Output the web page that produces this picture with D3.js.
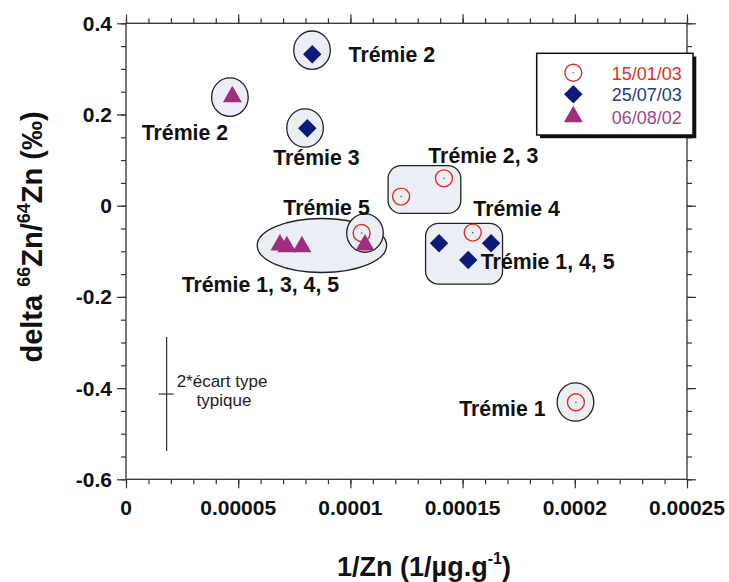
<!DOCTYPE html>
<html>
<head>
<meta charset="utf-8">
<script src="https://cdn.jsdelivr.net/npm/d3@7"></script>
<style>
  body { margin: 0; background: #fff; }
  svg { display: block; font-family: "Liberation Sans", Arial, sans-serif; }
</style>
</head>
<body>
<div id="chart"></div>
<script>
// x ticks / labels
var xTicks = [0, 0.00005, 0.0001, 0.00015, 0.0002, 0.00025];
var xTickLabels = ["0", "0.00005", "0.0001", "0.00015", "0.0002", "0.00025"];
var yTicks = [-0.6, -0.4, -0.2, 0, 0.2, 0.4];
var yTickLabels = ["-0.6", "-0.4", "-0.2", "0", "0.2", "0.4"];

// series names (legend order)
var seriesNames = ["15/01/03", "25/07/03", "06/08/02"];

// 15/01/03 - open circles
var jan03 = [
  {x: 0.0001226, y: 0.020},
  {x: 0.0001417, y: 0.060},
  {x: 0.0001545, y: -0.059},
  {x: 0.0001050, y: -0.060},
  {x: 0.0002005, y: -0.431}
];
// 25/07/03 - diamonds
var jul03 = [
  {x: 0.0000830, y: 0.332},
  {x: 0.0000808, y: 0.170},
  {x: 0.0001395, y: -0.0825},
  {x: 0.0001627, y: -0.0825},
  {x: 0.0001525, y: -0.119}
];
// 06/08/02 - triangles
var aug02 = [
  {x: 0.0000474, y: 0.239},
  {x: 0.0000686, y: -0.086},
  {x: 0.0000717, y: -0.090},
  {x: 0.0000784, y: -0.090},
  {x: 0.0001065, y: -0.086}
];

// text labels (data coords of the text start / baseline)
var labels = [
  {text: "Trémie 2", x: 0.0000992, y: 0.3145},
  {text: "Trémie 2", x: 0.0000070, y: 0.144},
  {text: "Trémie 3", x: 0.0000656, y: 0.0893},
  {text: "Trémie 2, 3", x: 0.0001347, y: 0.093},
  {text: "Trémie 5", x: 0.0000701, y: -0.0204},
  {text: "Trémie 4", x: 0.0001548, y: -0.0226},
  {text: "Trémie 1, 3, 4, 5", x: 0.0000248, y: -0.19},
  {text: "Trémie 1, 4, 5", x: 0.0001581, y: -0.1395},
  {text: "Trémie 1", x: 0.0001485, y: -0.4605}
];

// grouping ellipses (center in data units)
var groupEllipses = [
  {x: 0.0000829, y: 0.341},
  {x: 0.0000463, y: 0.238},
  {x: 0.0000798, y: 0.1704},
  {x: 0.0002003, y: -0.4305},
  {x: 0.0000873, y: -0.0873, big: true},
  {x: 0.0001065, y: -0.060}
];
// grouping rounded boxes
var groupBoxes = [
  {x0: 0.0001168, x1: 0.0001492, y0: -0.017, y1: 0.088},
  {x0: 0.0001335, x1: 0.0001678, y0: -0.172, y1: -0.0386}
];

// typical error bar (2 sigma)
var errBar = {x: 0.0000181, y: -0.413, err: 0.125};

var width = 729, height = 582;
var margin = {top: 23.3, right: 42, bottom: 102.7, left: 126};

var svg = d3.select("#chart").append("svg")
    .attr("width", width)
    .attr("height", height);

var x = d3.scaleLinear().domain([0, 0.00025]).range([margin.left, width - margin.right]);
var y = d3.scaleLinear().domain([-0.6, 0.4]).range([height - margin.bottom, margin.top]);

var frameColor = "#333";
var fillGroup = "#eceef6";

// frame
svg.append("rect")
    .attr("x", x(0)).attr("y", y(0.4))
    .attr("width", x(0.00025) - x(0)).attr("height", y(-0.6) - y(0.4))
    .attr("fill", "none").attr("stroke", frameColor).attr("stroke-width", 1.3);

var xMinor = d3.range(0, 0.000250001, 0.00001);
var yMinor = d3.range(-0.6, 0.40001, 0.05);

// ticks, pointing inward on all sides
svg.append("g").call(d3.axisTop(x).tickValues(xMinor).tickSize(-5).tickFormat(""))
    .attr("transform", "translate(0," + y(-0.6) + ")");
svg.append("g").call(d3.axisTop(x).tickValues(xTicks).tickSize(-9).tickFormat(""))
    .attr("transform", "translate(0," + y(-0.6) + ")");
svg.append("g").call(d3.axisBottom(x).tickValues(xMinor).tickSize(-5).tickFormat(""))
    .attr("transform", "translate(0," + y(0.4) + ")");
svg.append("g").call(d3.axisBottom(x).tickValues(xTicks).tickSize(-9).tickFormat(""))
    .attr("transform", "translate(0," + y(0.4) + ")");
svg.append("g").call(d3.axisRight(y).tickValues(yMinor).tickSize(-5).tickFormat(""))
    .attr("transform", "translate(" + x(0) + ",0)");
svg.append("g").call(d3.axisRight(y).tickValues(yTicks).tickSize(-9).tickFormat(""))
    .attr("transform", "translate(" + x(0) + ",0)");
svg.append("g").call(d3.axisLeft(y).tickValues(yMinor).tickSize(-5).tickFormat(""))
    .attr("transform", "translate(" + x(0.00025) + ",0)");
svg.append("g").call(d3.axisLeft(y).tickValues(yTicks).tickSize(-9).tickFormat(""))
    .attr("transform", "translate(" + x(0.00025) + ",0)");
svg.selectAll(".domain").remove();
svg.selectAll(".tick line").attr("stroke", frameColor).attr("stroke-width", 1.2);

// tick labels
svg.append("g").selectAll("text")
    .data(xTicks)
    .enter().append("text")
    .attr("x", function(d){ return x(d); })
    .attr("y", y(-0.6) + 36)
    .attr("text-anchor", "middle")
    .attr("font-size", 21).attr("font-weight", "bold").attr("fill", "#111")
    .text(function(d, i){ return xTickLabels[i]; });

svg.append("g").selectAll("text")
    .data(yTicks)
    .enter().append("text")
    .attr("x", x(0) - 14)
    .attr("y", function(d){ return y(d) + 7.5; })
    .attr("text-anchor", "end")
    .attr("font-size", 21).attr("font-weight", "bold").attr("fill", "#111")
    .text(function(d, i){ return yTickLabels[i]; });

// axis titles
var xt = svg.append("text")
    .attr("x", 424).attr("y", 576)
    .attr("text-anchor", "middle")
    .attr("font-size", 27).attr("font-weight", "bold").attr("fill", "#111");
xt.append("tspan").text("1/Zn (1/µg.g");
xt.append("tspan").attr("font-size", 16).attr("dy", -12).text("-1");
xt.append("tspan").attr("dy", 12).text(")");

var yt = svg.append("text")
    .attr("transform", "translate(42," + 237 + ") rotate(-90)")
    .attr("text-anchor", "middle")
    .attr("font-size", 29).attr("font-weight", "bold").attr("fill", "#111");
yt.append("tspan").text("delta  ");
yt.append("tspan").attr("font-size", 18).attr("dy", -12).text("66");
yt.append("tspan").attr("dy", 12).text("Zn/");
yt.append("tspan").attr("font-size", 18).attr("dy", -12).text("64");
yt.append("tspan").attr("dy", 12).text("Zn (‰)");

// grouping shapes
svg.append("g").selectAll("ellipse")
    .data(groupEllipses.filter(function(d){ return d.big; }).concat(groupEllipses.filter(function(d){ return !d.big; })))
    .enter().append("ellipse")
    .attr("cx", function(d){ return x(d.x); })
    .attr("cy", function(d){ return y(d.y); })
    .attr("rx", function(d){ return d.big ? 64.7 : 18.3; })
    .attr("ry", function(d){ return d.big ? 27 : 19.2; })
    .attr("fill", fillGroup).attr("stroke", "#222").attr("stroke-width", 1.3);

svg.append("g").selectAll("rect")
    .data(groupBoxes)
    .enter().append("rect")
    .attr("x", function(d){ return x(d.x0); })
    .attr("y", function(d){ return y(d.y1); })
    .attr("width", function(d){ return x(d.x1) - x(d.x0); })
    .attr("height", function(d){ return y(d.y0) - y(d.y1); })
    .attr("rx", 13).attr("ry", 13)
    .attr("fill", fillGroup).attr("stroke", "#222").attr("stroke-width", 1.3);

// error bar
var eb = svg.append("g").attr("stroke", "#333").attr("stroke-width", 1.2);
eb.append("line")
    .attr("x1", x(errBar.x)).attr("x2", x(errBar.x))
    .attr("y1", y(errBar.y + errBar.err)).attr("y2", y(errBar.y - errBar.err));
eb.append("line")
    .attr("x1", x(errBar.x) - 8).attr("x2", x(errBar.x) + 7)
    .attr("y1", y(errBar.y)).attr("y2", y(errBar.y));
svg.append("text").attr("x", 222).attr("y", 387)
    .attr("text-anchor", "middle").attr("font-size", 17).attr("fill", "#222")
    .text("2*écart type");
svg.append("text").attr("x", 224).attr("y", 406)
    .attr("text-anchor", "middle").attr("font-size", 17).attr("fill", "#222")
    .text("typique");

// markers
var colRed = "#dc3020", colBlue = "#0e1a7a", colPurple = "#a02d7f";
var diamond = d3.symbol().type(d3.symbolSquare).size(170);
var triangle = d3.symbol().type(d3.symbolTriangle).size(155);

function drawCircle(g, cx, cy) {
  g.append("circle").attr("cx", cx).attr("cy", cy).attr("r", 8.5)
    .attr("fill", "none").attr("stroke", colRed).attr("stroke-width", 1.4);
  g.append("circle").attr("cx", cx).attr("cy", cy).attr("r", 0.8).attr("fill", "#8a4a2a");
}

var gm = svg.append("g");
jan03.forEach(function(d){ drawCircle(gm, x(d.x), y(d.y)); });

gm.selectAll(".dia")
    .data(jul03)
    .enter().append("path").attr("class", "dia")
    .attr("d", diamond)
    .attr("transform", function(d){ return "translate(" + x(d.x) + "," + y(d.y) + ") rotate(45)"; })
    .attr("fill", colBlue);

gm.selectAll(".tri")
    .data(aug02)
    .enter().append("path").attr("class", "tri")
    .attr("d", triangle)
    .attr("transform", function(d){ return "translate(" + x(d.x) + "," + y(d.y) + ")"; })
    .attr("fill", colPurple);

// text labels
svg.append("g").selectAll("text")
    .data(labels)
    .enter().append("text")
    .attr("x", function(d){ return x(d.x); })
    .attr("y", function(d){ return y(d.y); })
    .attr("font-size", 21.3).attr("font-weight", "bold").attr("fill", "#111")
    .text(function(d){ return d.text; });

// legend
var lg = svg.append("g");
lg.append("rect").attr("x", 540).attr("y", 56.5).attr("width", 156.3).attr("height", 81.7).attr("fill", "#111");
lg.append("rect").attr("x", 536.7).attr("y", 53.3).attr("width", 156.3).attr("height", 81.7)
    .attr("fill", "#fff").attr("stroke", "#111").attr("stroke-width", 1.5);

var legendRows = [72.7, 94.3, 116.7];
var legendText = [colRed, "#24398c", "#a0458a"];
drawCircle(lg, 573.3, legendRows[0]);
lg.append("path").attr("d", diamond)
    .attr("transform", "translate(573.3," + legendRows[1] + ") rotate(45)").attr("fill", colBlue);
lg.append("path").attr("d", triangle)
    .attr("transform", "translate(573.3," + legendRows[2] + ")").attr("fill", colPurple);
lg.selectAll(".lt")
    .data(seriesNames)
    .enter().append("text").attr("class", "lt")
    .attr("x", 611.7)
    .attr("y", function(d, i){ return legendRows[i] + 7; })
    .attr("font-size", 18).attr("fill", function(d, i){ return legendText[i]; })
    .text(function(d){ return d; });
</script>
</body>
</html>
